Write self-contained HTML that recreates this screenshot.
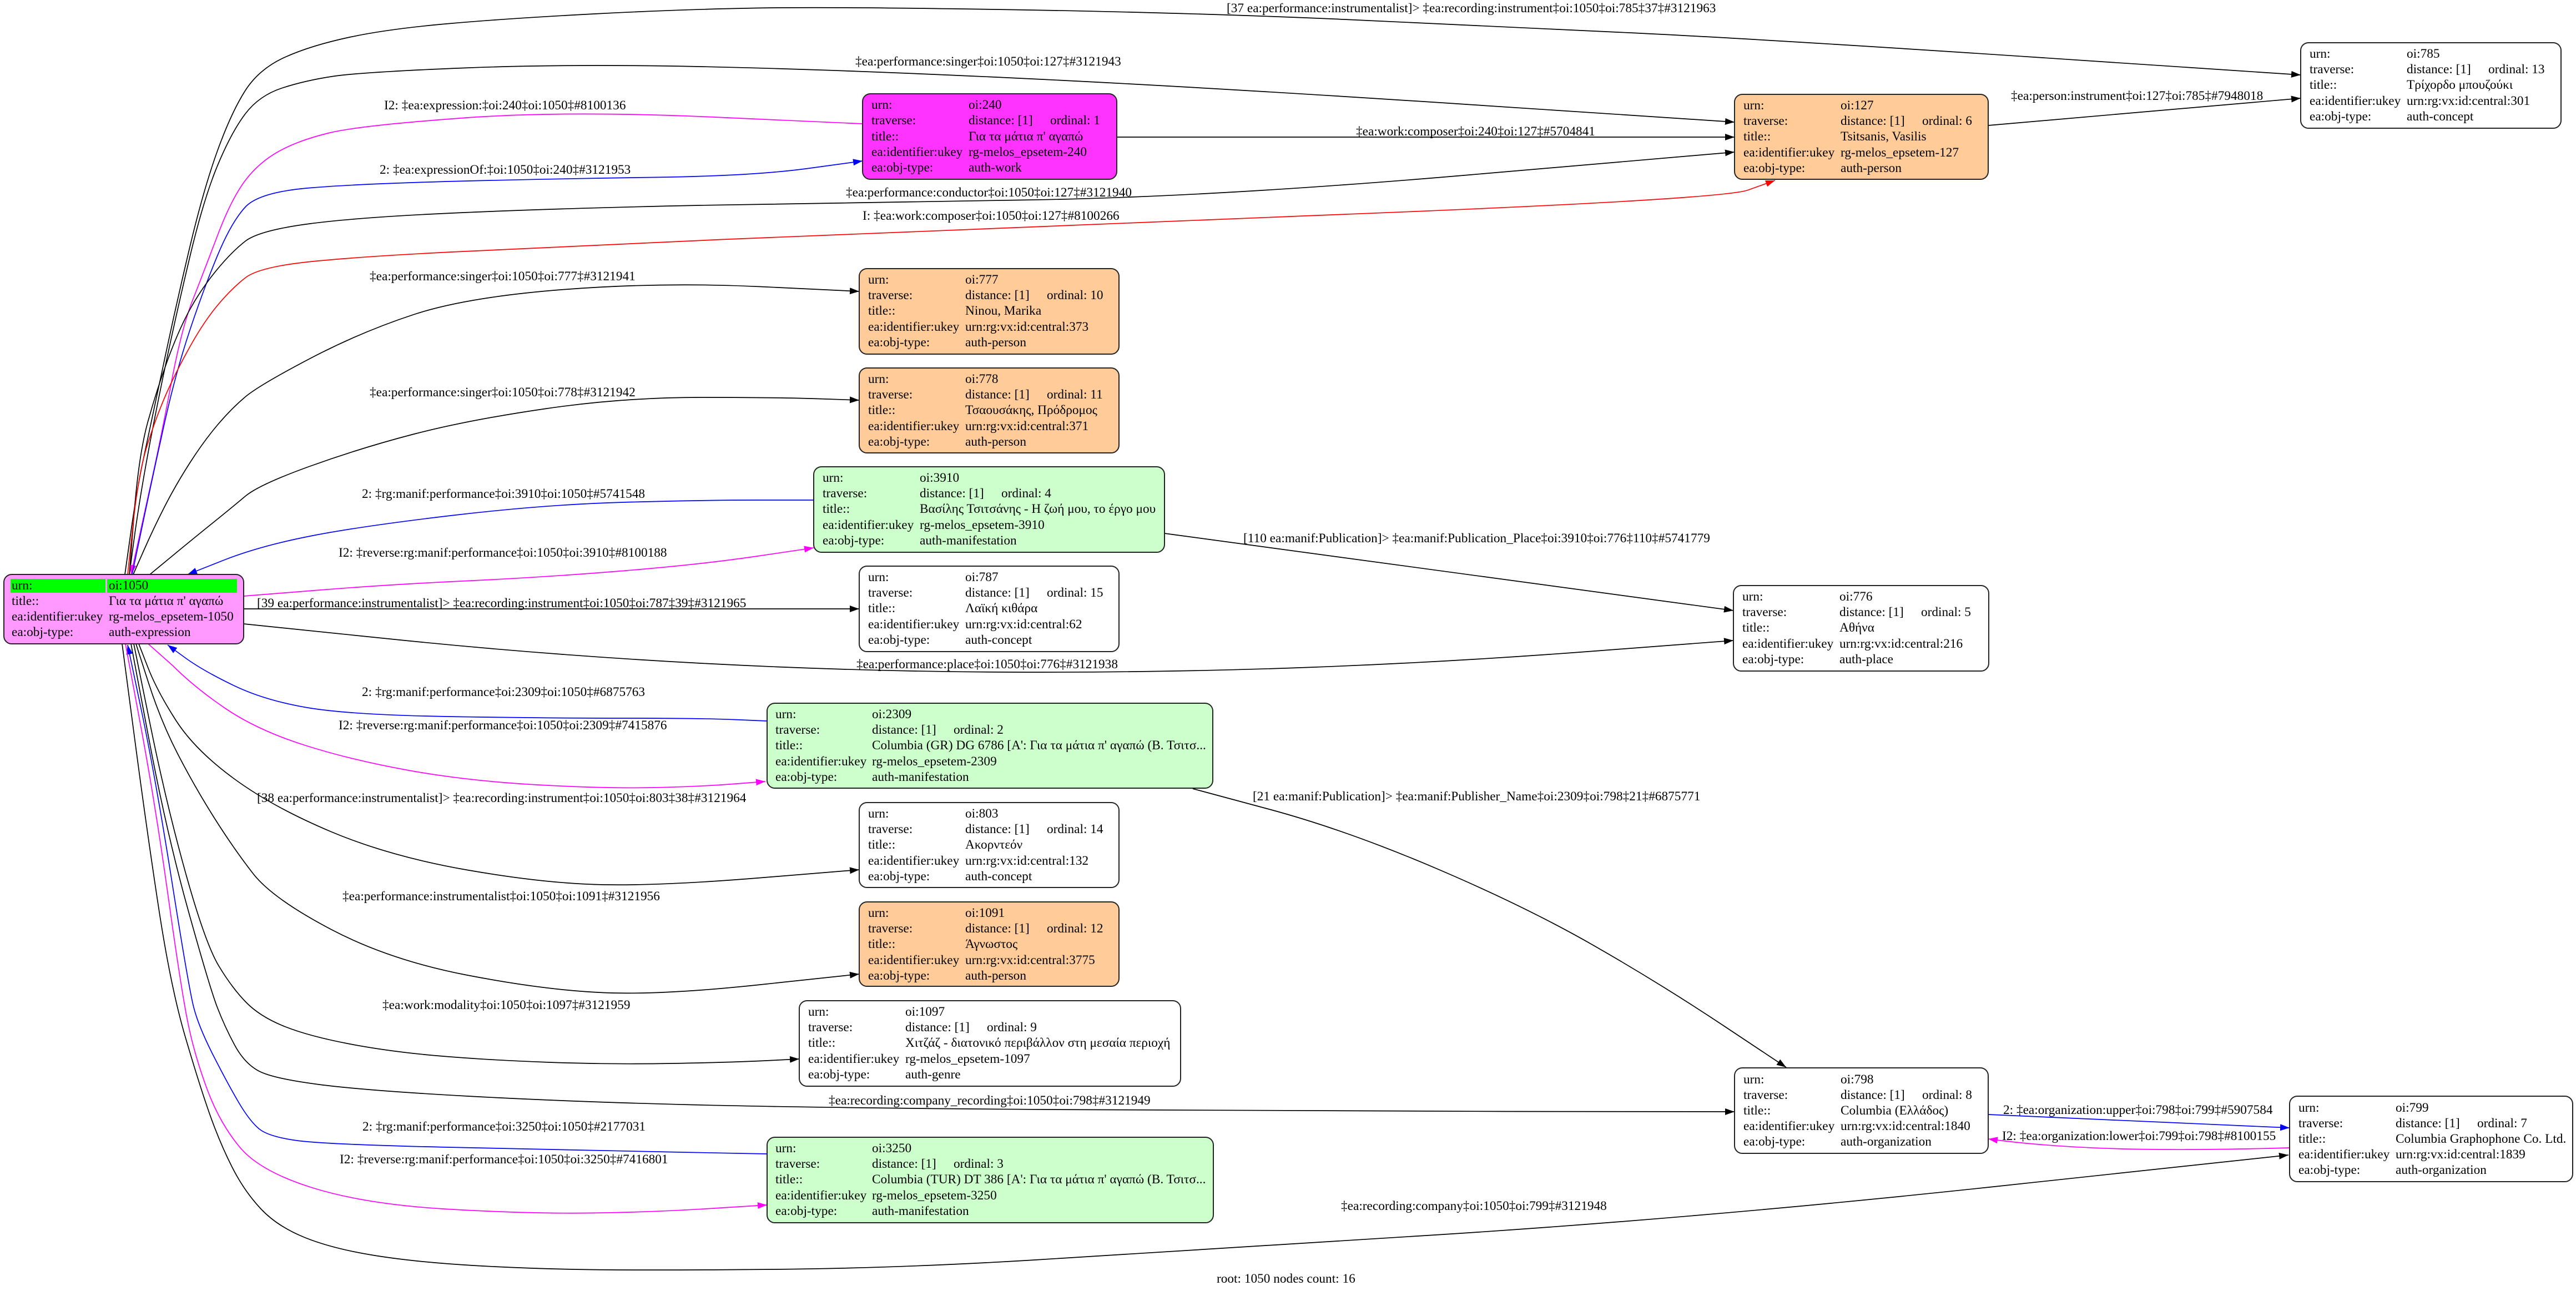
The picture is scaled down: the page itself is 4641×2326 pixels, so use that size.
<!DOCTYPE html>
<html>
<head>
<meta charset="utf-8">
<style>
html,body{margin:0;padding:0;background:#fff;}
svg{display:block;}
text{font-family:"Liberation Serif","DejaVu Serif",serif;font-size:23.3px;fill:#000;}
.e{fill:none;stroke-width:1.7;}
.k{stroke:#000;}
.b{stroke:#0000ff;}
.m{stroke:#ff00ff;}
.r{stroke:#ff0000;}
.n{stroke:#222;stroke-width:2;}
</style>
</head>
<body>
<svg width="4641" height="2326" viewBox="0 0 4641 2326" xmlns="http://www.w3.org/2000/svg">
<defs>
<marker id="ak" markerUnits="userSpaceOnUse" markerWidth="20" markerHeight="14" refX="17" refY="6" orient="auto"><path d="M0,0 L17,6 L0,12 z" fill="#000"/></marker>
<marker id="ab" markerUnits="userSpaceOnUse" markerWidth="20" markerHeight="14" refX="17" refY="6" orient="auto"><path d="M0,0 L17,6 L0,12 z" fill="#0000ff"/></marker>
<marker id="am" markerUnits="userSpaceOnUse" markerWidth="20" markerHeight="14" refX="17" refY="6" orient="auto"><path d="M0,0 L17,6 L0,12 z" fill="#ff00ff"/></marker>
<marker id="ar" markerUnits="userSpaceOnUse" markerWidth="20" markerHeight="14" refX="17" refY="6" orient="auto"><path d="M0,0 L17,6 L0,12 z" fill="#ff0000"/></marker>
</defs>
<rect x="0" y="0" width="4641" height="2326" fill="#fff"/>

<!-- EDGES -->
<!-- A 1050->785 -->
<path class="e k" marker-end="url(#ak)" d="M225,1035 L236,957 Q247,879 260,819 Q273,759 295,654.5 Q317,550 342,445 Q367,340 392,271 Q417,202 442,163 Q467,124 513.5,103 Q560,82 630,67 Q700,52 809,42.5 Q918,33 1071,25 Q1224,17 1362,14.5 Q1500,12 1825.5,17.5 Q2151,23 2422,35 Q2693,47 2946.5,59.5 Q3200,72 3672.5,103.5 L4145,135"/>
<!-- B 1050->127 singer -->
<path class="e k" marker-end="url(#ak)" d="M233,1035 L241.5,972 Q250,909 263.5,834 Q277,759 297,663.5 Q317,568 342,463 Q367,358 392,298 Q417,238 442,205 Q467,172 508.5,158.5 Q550,145 600,137.5 Q650,130 835,122.5 Q1020,115 1260,120 Q1500,125 1836,141 Q2172,157 2648.5,188.5 L3125,220"/>
<!-- C 240->1050 magenta -->
<path class="e m" marker-end="url(#am)" d="M1554,223 L1287,211 Q1020,199 835,212.5 Q650,226 595,239 Q540,252 503.5,272 Q467,292 442,325 Q417,358 392,424 Q367,490 347,541 Q327,592 308.5,690.5 Q290,789 273.5,864 Q257,939 246.5,987 L236,1035"/>
<!-- D 1050->240 blue -->
<path class="e b" marker-end="url(#ab)" d="M238,1035 L257.5,942 Q277,849 297,759.5 Q317,670 342,595 Q367,520 392,460 Q417,400 442,373 Q467,346 558.5,338.5 Q650,331 825,326.5 Q1000,322 1178.5,319.5 Q1357,317 1455.5,303.5 L1554,290"/>
<!-- E 240->127 -->
<path class="e k" marker-end="url(#ak)" d="M2012,247 L3125,247"/>
<!-- F conductor -->
<path class="e k" marker-end="url(#ak)" d="M233,1035 L241.5,927 Q250,819 266.5,759.5 Q283,700 303,646 Q323,592 343,556 Q363,520 390,487 Q417,454 442,434.5 Q467,415 558.5,403 Q650,391 835,383 Q1020,375 1260,370 Q1500,365 1836,360.5 Q2172,356 2648.5,315 L3125,274"/>
<!-- G red -->
<path class="e r" marker-end="url(#ar)" d="M230,1035 L240,942 Q250,849 266.5,798 Q283,747 300,708.5 Q317,670 342,625 Q367,580 392,550 Q417,520 442,500.5 Q467,481 558.5,471.5 Q650,462 825,453.5 Q1000,445 1300,431.5 Q1600,418 2350,389 Q3100,360 3149,342.5 L3198,325"/>
<!-- H 777 -->
<path class="e k" marker-end="url(#ak)" d="M240,1035 L258.5,993 Q277,951 297,912 Q317,873 342,834 Q367,795 392,765.5 Q417,736 442,715 Q467,694 558.5,646 Q650,598 746,566.5 Q842,535 1017.5,521.5 Q1193,508 1370.5,516.5 L1548,525"/>
<!-- I 778 -->
<path class="e k" marker-end="url(#ak)" d="M270,1035 L310,1002 Q350,969 383.5,942 Q417,915 442,894 Q467,873 558.5,840 Q650,807 746,782 Q842,757 982,736.5 Q1122,716 1262.5,716 Q1403,716 1475.5,718.5 L1548,721"/>
<!-- J 3910->1050 blue -->
<path class="e b" marker-end="url(#ab)" d="M1466,901 L1364.5,901 Q1263,901 1122.5,905 Q982,909 816,928.5 Q650,948 558.5,966 Q467,984 402.5,1009.5 L338,1035"/>
<!-- K 1050->3910 magenta -->
<path class="e m" marker-end="url(#am)" d="M439,1074 L570.5,1063.5 Q702,1053 842,1046.5 Q982,1040 1122.5,1028.5 Q1263,1017 1364.5,1002 L1466,987"/>
<!-- L 787 -->
<path class="e k" marker-end="url(#ak)" d="M439,1097 L1548,1097"/>
<!-- M place 776 -->
<path class="e k" marker-end="url(#ak)" d="M439,1124 L710.5,1152 Q982,1180 1262.5,1195 Q1543,1210 1821.5,1211 Q2100,1212 2355,1202.5 Q2610,1193 2866.5,1173.5 L3123,1154"/>
<!-- N 3910->776 -->
<path class="e k" marker-end="url(#ak)" d="M2098,961 L3123,1100"/>
<!-- O 2309->1050 blue -->
<path class="e b" marker-end="url(#ab)" d="M1382,1299 L1322.5,1296.5 Q1263,1294 1122.5,1294 Q982,1294 806.5,1291 Q631,1288 554,1275 Q477,1262 421,1235 Q365,1208 333.5,1185 L302,1162"/>
<!-- P 1050->2309 magenta -->
<path class="e m" marker-end="url(#am)" d="M267,1160 L311.5,1199.5 Q351,1239 407,1277 Q463,1315 547,1342 Q631,1369 736.5,1388 Q842,1407 968,1414 Q1094,1421 1178.5,1419 Q1263,1417 1321,1412.5 L1379,1408"/>
<!-- Q 803 -->
<path class="e k" marker-end="url(#ak)" d="M250,1160 L266.5,1202.5 Q283,1245 317,1298 Q351,1351 421,1402.5 Q491,1454 596.5,1498.5 Q702,1543 842,1567.5 Q982,1592 1087.5,1594 Q1193,1596 1370.5,1581.5 L1548,1567"/>
<!-- R 1091 -->
<path class="e k" marker-end="url(#ak)" d="M245,1160 L267.5,1230 Q290,1300 320.5,1359 Q351,1418 386,1473.5 Q421,1529 456,1574 Q491,1619 596.5,1674.5 Q702,1730 842,1757 Q982,1784 1087.5,1788.5 Q1193,1793 1370.5,1774 L1548,1755"/>
<!-- S 1097 -->
<path class="e k" marker-end="url(#ak)" d="M241,1160 L270.5,1305 Q300,1450 335,1575 Q370,1700 394,1740 Q418,1780 443.5,1806 Q469,1832 513,1849.5 Q557,1867 630.5,1881 Q704,1895 792,1902.5 Q880,1910 990,1914 Q1100,1918 1210,1916 Q1320,1914 1380,1911 L1440,1908"/>
<!-- T 798 -->
<path class="e k" marker-end="url(#ak)" d="M236,1160 L268,1330 Q300,1500 339,1640 Q378,1780 391.5,1815 Q405,1850 422.5,1882.5 Q440,1915 465,1929 Q490,1943 575,1954 Q660,1965 843.5,1975 Q1027,1985 1247,1990.5 Q1467,1996 1883.5,1999 Q2300,2002 2712.5,2002.5 L3125,2003"/>
<!-- U 3250->1050 blue -->
<path class="e b" marker-end="url(#ab)" d="M1382,2079 L1204.5,2075.5 Q1027,2072 807,2067 Q587,2062 535.5,2055 Q484,2048 467,2034 Q450,2020 430.5,1987 Q411,1954 384.5,1902 Q358,1850 349,1815 Q340,1780 310,1590 Q280,1400 255,1281 L230,1162"/>
<!-- V 1050->3250 magenta -->
<path class="e m" marker-end="url(#am)" d="M226,1160 L253,1305 Q280,1450 303,1615 Q326,1780 338,1840 Q350,1900 373,1962 Q396,2024 432.5,2067.5 Q469,2111 564.5,2140.5 Q660,2170 806.5,2178.5 Q953,2187 1063.5,2185.5 Q1174,2184 1278,2177.5 L1382,2171"/>
<!-- W 799 -->
<path class="e k" marker-end="url(#ak)" d="M220,1160 L242.5,1330 Q265,1500 286.5,1640 Q308,1780 333.5,1867 Q359,1954 377.5,2006.5 Q396,2059 418,2102.5 Q440,2146 470,2178 Q500,2210 550,2230 Q600,2250 675,2262 Q750,2274 852,2280 Q954,2286 1064,2287.5 Q1174,2289 1394,2287 Q1614,2285 1857,2270.5 Q2100,2256 2586,2225 Q3072,2194 3597.5,2137.5 L4123,2081"/>
<!-- X 2309->798 -->
<path class="e k" marker-end="url(#ak)" d="M2149,1421 L2286.5,1458 Q2424,1495 2586,1564 Q2748,1633 2869.5,1702.5 Q2991,1772 3104.5,1847.5 L3218,1923"/>
<!-- Y 127->785 -->
<path class="e k" marker-end="url(#ak)" d="M3582,226 L4145,177"/>
<!-- 798->799 blue -->
<path class="e b" marker-end="url(#ab)" d="M3582,2008 L4125,2032"/>
<!-- 799->798 magenta -->
<path class="e m" marker-end="url(#am)" d="M4125,2068 C3950,2073 3750,2075 3582,2052"/>

<!-- EDGE LABELS -->
<text x="2210" y="22">[37 ea:performance:instrumentalist]&gt; ‡ea:recording:instrument‡oi:1050‡oi:785‡37‡#3121963</text>
<text x="1541" y="118">‡ea:performance:singer‡oi:1050‡oi:127‡#3121943</text>
<text x="692" y="197">I2: ‡ea:expression:‡oi:240‡oi:1050‡#8100136</text>
<text x="684" y="313">2: ‡ea:expressionOf:‡oi:1050‡oi:240‡#3121953</text>
<text x="2443" y="244">‡ea:work:composer‡oi:240‡oi:127‡#5704841</text>
<text x="1524" y="354">‡ea:performance:conductor‡oi:1050‡oi:127‡#3121940</text>
<text x="1554" y="396">I: ‡ea:work:composer‡oi:1050‡oi:127‡#8100266</text>
<text x="3623" y="180">‡ea:person:instrument‡oi:127‡oi:785‡#7948018</text>
<text x="666" y="505">‡ea:performance:singer‡oi:1050‡oi:777‡#3121941</text>
<text x="666" y="714">‡ea:performance:singer‡oi:1050‡oi:778‡#3121942</text>
<text x="652" y="897">2: ‡rg:manif:performance‡oi:3910‡oi:1050‡#5741548</text>
<text x="610" y="1003">I2: ‡reverse:rg:manif:performance‡oi:1050‡oi:3910‡#8100188</text>
<text x="2240" y="977">[110 ea:manif:Publication]&gt; ‡ea:manif:Publication_Place‡oi:3910‡oi:776‡110‡#5741779</text>
<text x="463" y="1094">[39 ea:performance:instrumentalist]&gt; ‡ea:recording:instrument‡oi:1050‡oi:787‡39‡#3121965</text>
<text x="1543" y="1204">‡ea:performance:place‡oi:1050‡oi:776‡#3121938</text>
<text x="652" y="1254">2: ‡rg:manif:performance‡oi:2309‡oi:1050‡#6875763</text>
<text x="610" y="1314">I2: ‡reverse:rg:manif:performance‡oi:1050‡oi:2309‡#7415876</text>
<text x="463" y="1445">[38 ea:performance:instrumentalist]&gt; ‡ea:recording:instrument‡oi:1050‡oi:803‡38‡#3121964</text>
<text x="2257" y="1442">[21 ea:manif:Publication]&gt; ‡ea:manif:Publisher_Name‡oi:2309‡oi:798‡21‡#6875771</text>
<text x="617" y="1622">‡ea:performance:instrumentalist‡oi:1050‡oi:1091‡#3121956</text>
<text x="689" y="1818">‡ea:work:modality‡oi:1050‡oi:1097‡#3121959</text>
<text x="1493" y="1990">‡ea:recording:company_recording‡oi:1050‡oi:798‡#3121949</text>
<text x="3609" y="2007">2: ‡ea:organization:upper‡oi:798‡oi:799‡#5907584</text>
<text x="3607" y="2054">I2: ‡ea:organization:lower‡oi:799‡oi:798‡#8100155</text>
<text x="653" y="2037">2: ‡rg:manif:performance‡oi:3250‡oi:1050‡#2177031</text>
<text x="612" y="2096">I2: ‡reverse:rg:manif:performance‡oi:1050‡oi:3250‡#7416801</text>
<text x="2416" y="2180">‡ea:recording:company‡oi:1050‡oi:799‡#3121948</text>
<text x="2192" y="2311">root: 1050 nodes count: 16</text>

<!-- NODES -->
<!-- oi:1050 -->
<rect class="n" x="7" y="1035" width="432" height="125" rx="14" fill="#ff99ff"/>
<rect x="19" y="1043" width="171" height="25" fill="#00ff00"/>
<rect x="193" y="1043" width="234" height="25" fill="#00ff00"/>
<text x="21" y="1062">urn:</text><text x="196" y="1062">oi:1050</text>
<text x="21" y="1090">title::</text><text x="196" y="1090">Για τα μάτια π' αγαπώ</text>
<text x="21" y="1118">ea:identifier:ukey</text><text x="196" y="1118">rg-melos_epsetem-1050</text>
<text x="21" y="1146">ea:obj-type:</text><text x="196" y="1146">auth-expression</text>

<!-- oi:240 -->
<rect class="n" x="1554" y="169" width="458" height="154" rx="14" fill="#ff33ff"/>
<text x="1570" y="196">urn:</text><text x="1745" y="196">oi:240</text>
<text x="1570" y="224">traverse:</text><text x="1745" y="224">distance: [1]</text><text x="1892" y="224">ordinal: 1</text>
<text x="1570" y="253">title::</text><text x="1745" y="253">Για τα μάτια π' αγαπώ</text>
<text x="1570" y="281">ea:identifier:ukey</text><text x="1745" y="281">rg-melos_epsetem-240</text>
<text x="1570" y="309">ea:obj-type:</text><text x="1745" y="309">auth-work</text>

<!-- oi:127 -->
<rect class="n" x="3125" y="170" width="457" height="153" rx="14" fill="#ffcc99"/>
<text x="3141" y="197">urn:</text><text x="3316" y="197">oi:127</text>
<text x="3141" y="225">traverse:</text><text x="3316" y="225">distance: [1]</text><text x="3463" y="225">ordinal: 6</text>
<text x="3141" y="253">title::</text><text x="3316" y="253">Tsitsanis, Vasilis</text>
<text x="3141" y="282">ea:identifier:ukey</text><text x="3316" y="282">rg-melos_epsetem-127</text>
<text x="3141" y="310">ea:obj-type:</text><text x="3316" y="310">auth-person</text>

<!-- oi:785 -->
<rect class="n" x="4145" y="77" width="469" height="154" rx="14" fill="#ffffff"/>
<text x="4161" y="104">urn:</text><text x="4336" y="104">oi:785</text>
<text x="4161" y="132">traverse:</text><text x="4336" y="132">distance: [1]</text><text x="4483" y="132">ordinal: 13</text>
<text x="4161" y="160">title::</text><text x="4336" y="160">Τρίχορδο μπουζούκι</text>
<text x="4161" y="189">ea:identifier:ukey</text><text x="4336" y="189">urn:rg:vx:id:central:301</text>
<text x="4161" y="217">ea:obj-type:</text><text x="4336" y="217">auth-concept</text>

<!-- oi:777 -->
<rect class="n" x="1548" y="484" width="468" height="154" rx="14" fill="#ffcc99"/>
<text x="1564" y="511">urn:</text><text x="1739" y="511">oi:777</text>
<text x="1564" y="539">traverse:</text><text x="1739" y="539">distance: [1]</text><text x="1886" y="539">ordinal: 10</text>
<text x="1564" y="567">title::</text><text x="1739" y="567">Ninou, Marika</text>
<text x="1564" y="596">ea:identifier:ukey</text><text x="1739" y="596">urn:rg:vx:id:central:373</text>
<text x="1564" y="624">ea:obj-type:</text><text x="1739" y="624">auth-person</text>

<!-- oi:778 -->
<rect class="n" x="1548" y="663" width="468" height="153" rx="14" fill="#ffcc99"/>
<text x="1564" y="690">urn:</text><text x="1739" y="690">oi:778</text>
<text x="1564" y="718">traverse:</text><text x="1739" y="718">distance: [1]</text><text x="1886" y="718">ordinal: 11</text>
<text x="1564" y="746">title::</text><text x="1739" y="746">Τσαουσάκης, Πρόδρομος</text>
<text x="1564" y="775">ea:identifier:ukey</text><text x="1739" y="775">urn:rg:vx:id:central:371</text>
<text x="1564" y="803">ea:obj-type:</text><text x="1739" y="803">auth-person</text>

<!-- oi:3910 -->
<rect class="n" x="1466" y="841" width="632" height="154" rx="14" fill="#ccffcc"/>
<text x="1482" y="868">urn:</text><text x="1657" y="868">oi:3910</text>
<text x="1482" y="896">traverse:</text><text x="1657" y="896">distance: [1]</text><text x="1804" y="896">ordinal: 4</text>
<text x="1482" y="924">title::</text><text x="1657" y="924">Βασίλης Τσιτσάνης - Η ζωή μου, το έργο μου</text>
<text x="1482" y="953">ea:identifier:ukey</text><text x="1657" y="953">rg-melos_epsetem-3910</text>
<text x="1482" y="981">ea:obj-type:</text><text x="1657" y="981">auth-manifestation</text>

<!-- oi:787 -->
<rect class="n" x="1548" y="1020" width="468" height="154" rx="14" fill="#ffffff"/>
<text x="1564" y="1047">urn:</text><text x="1739" y="1047">oi:787</text>
<text x="1564" y="1075">traverse:</text><text x="1739" y="1075">distance: [1]</text><text x="1886" y="1075">ordinal: 15</text>
<text x="1564" y="1103">title::</text><text x="1739" y="1103">Λαϊκή κιθάρα</text>
<text x="1564" y="1132">ea:identifier:ukey</text><text x="1739" y="1132">urn:rg:vx:id:central:62</text>
<text x="1564" y="1160">ea:obj-type:</text><text x="1739" y="1160">auth-concept</text>

<!-- oi:776 -->
<rect class="n" x="3123" y="1055" width="460" height="154" rx="14" fill="#ffffff"/>
<text x="3139" y="1082">urn:</text><text x="3314" y="1082">oi:776</text>
<text x="3139" y="1110">traverse:</text><text x="3314" y="1110">distance: [1]</text><text x="3461" y="1110">ordinal: 5</text>
<text x="3139" y="1138">title::</text><text x="3314" y="1138">Αθήνα</text>
<text x="3139" y="1167">ea:identifier:ukey</text><text x="3314" y="1167">urn:rg:vx:id:central:216</text>
<text x="3139" y="1195">ea:obj-type:</text><text x="3314" y="1195">auth-place</text>

<!-- oi:2309 -->
<rect class="n" x="1382" y="1267" width="803" height="153" rx="14" fill="#ccffcc"/>
<text x="1397" y="1294">urn:</text><text x="1571" y="1294">oi:2309</text>
<text x="1397" y="1322">traverse:</text><text x="1571" y="1322">distance: [1]</text><text x="1718" y="1322">ordinal: 2</text>
<text x="1397" y="1350">title::</text><text x="1571" y="1350">Columbia (GR) DG 6786 [A': Για τα μάτια π' αγαπώ (Β. Τσιτσ...</text>
<text x="1397" y="1379">ea:identifier:ukey</text><text x="1571" y="1379">rg-melos_epsetem-2309</text>
<text x="1397" y="1407">ea:obj-type:</text><text x="1571" y="1407">auth-manifestation</text>

<!-- oi:803 -->
<rect class="n" x="1548" y="1446" width="468" height="153" rx="14" fill="#ffffff"/>
<text x="1564" y="1473">urn:</text><text x="1739" y="1473">oi:803</text>
<text x="1564" y="1501">traverse:</text><text x="1739" y="1501">distance: [1]</text><text x="1886" y="1501">ordinal: 14</text>
<text x="1564" y="1529">title::</text><text x="1739" y="1529">Ακορντεόν</text>
<text x="1564" y="1558">ea:identifier:ukey</text><text x="1739" y="1558">urn:rg:vx:id:central:132</text>
<text x="1564" y="1586">ea:obj-type:</text><text x="1739" y="1586">auth-concept</text>

<!-- oi:1091 -->
<rect class="n" x="1548" y="1625" width="468" height="152" rx="14" fill="#ffcc99"/>
<text x="1564" y="1652">urn:</text><text x="1739" y="1652">oi:1091</text>
<text x="1564" y="1680">traverse:</text><text x="1739" y="1680">distance: [1]</text><text x="1886" y="1680">ordinal: 12</text>
<text x="1564" y="1708">title::</text><text x="1739" y="1708">Άγνωστος</text>
<text x="1564" y="1737">ea:identifier:ukey</text><text x="1739" y="1737">urn:rg:vx:id:central:3775</text>
<text x="1564" y="1765">ea:obj-type:</text><text x="1739" y="1765">auth-person</text>

<!-- oi:1097 -->
<rect class="n" x="1440" y="1803" width="687" height="154" rx="14" fill="#ffffff"/>
<text x="1456" y="1830">urn:</text><text x="1631" y="1830">oi:1097</text>
<text x="1456" y="1858">traverse:</text><text x="1631" y="1858">distance: [1]</text><text x="1778" y="1858">ordinal: 9</text>
<text x="1456" y="1886">title::</text><text x="1631" y="1886">Χιτζάζ - διατονικό περιβάλλον στη μεσαία περιοχή</text>
<text x="1456" y="1915">ea:identifier:ukey</text><text x="1631" y="1915">rg-melos_epsetem-1097</text>
<text x="1456" y="1943">ea:obj-type:</text><text x="1631" y="1943">auth-genre</text>

<!-- oi:798 -->
<rect class="n" x="3125" y="1924" width="457" height="154" rx="14" fill="#ffffff"/>
<text x="3141" y="1952">urn:</text><text x="3316" y="1952">oi:798</text>
<text x="3141" y="1980">traverse:</text><text x="3316" y="1980">distance: [1]</text><text x="3463" y="1980">ordinal: 8</text>
<text x="3141" y="2008">title::</text><text x="3316" y="2008">Columbia (Ελλάδος)</text>
<text x="3141" y="2036">ea:identifier:ukey</text><text x="3316" y="2036">urn:rg:vx:id:central:1840</text>
<text x="3141" y="2064">ea:obj-type:</text><text x="3316" y="2064">auth-organization</text>

<!-- oi:799 -->
<rect class="n" x="4125" y="1975" width="510" height="154" rx="14" fill="#ffffff"/>
<text x="4141" y="2003">urn:</text><text x="4316" y="2003">oi:799</text>
<text x="4141" y="2031">traverse:</text><text x="4316" y="2031">distance: [1]</text><text x="4463" y="2031">ordinal: 7</text>
<text x="4141" y="2059">title::</text><text x="4316" y="2059">Columbia Graphophone Co. Ltd.</text>
<text x="4141" y="2087">ea:identifier:ukey</text><text x="4316" y="2087">urn:rg:vx:id:central:1839</text>
<text x="4141" y="2115">ea:obj-type:</text><text x="4316" y="2115">auth-organization</text>

<!-- oi:3250 -->
<rect class="n" x="1382" y="2049" width="804" height="154" rx="14" fill="#ccffcc"/>
<text x="1397" y="2076">urn:</text><text x="1571" y="2076">oi:3250</text>
<text x="1397" y="2104">traverse:</text><text x="1571" y="2104">distance: [1]</text><text x="1718" y="2104">ordinal: 3</text>
<text x="1397" y="2132">title::</text><text x="1571" y="2132">Columbia (TUR) DT 386 [A': Για τα μάτια π' αγαπώ (Β. Τσιτσ...</text>
<text x="1397" y="2161">ea:identifier:ukey</text><text x="1571" y="2161">rg-melos_epsetem-3250</text>
<text x="1397" y="2189">ea:obj-type:</text><text x="1571" y="2189">auth-manifestation</text>

</svg>
</body>
</html>
